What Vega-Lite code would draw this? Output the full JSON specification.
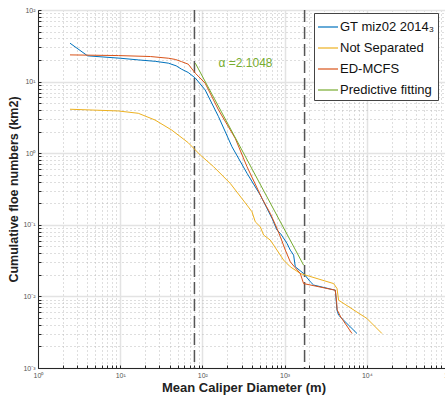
{
  "$schema": "https://vega.github.io/schema/vega-lite/v6.json",
  "width": 411,
  "height": 358,
  "autosize": {"type": "none"},
  "padding": {"left": 38, "top": 10, "right": 0, "bottom": 33},
  "background": "white",
  "config": {
    "font": "Liberation Sans",
    "view": {"stroke": "#262626", "strokeWidth": 1}
  },
  "datasets": {
    "curves": [
      {"s": "GT miz02 2014₃", "x": 2.45, "y": 34.4},
      {"s": "GT miz02 2014₃", "x": 4.01, "y": 22.9},
      {"s": "GT miz02 2014₃", "x": 10.0, "y": 21.2},
      {"s": "GT miz02 2014₃", "x": 16.6, "y": 20.1},
      {"s": "GT miz02 2014₃", "x": 26.7, "y": 19.2},
      {"s": "GT miz02 2014₃", "x": 38.5, "y": 18.1},
      {"s": "GT miz02 2014₃", "x": 48, "y": 16.6},
      {"s": "GT miz02 2014₃", "x": 55.8, "y": 14.9},
      {"s": "GT miz02 2014₃", "x": 67.3, "y": 13.4},
      {"s": "GT miz02 2014₃", "x": 82, "y": 11.2},
      {"s": "GT miz02 2014₃", "x": 108, "y": 7.65},
      {"s": "GT miz02 2014₃", "x": 157, "y": 3.24},
      {"s": "GT miz02 2014₃", "x": 229, "y": 1.23},
      {"s": "GT miz02 2014₃", "x": 349, "y": 0.524},
      {"s": "GT miz02 2014₃", "x": 506, "y": 0.26},
      {"s": "GT miz02 2014₃", "x": 703, "y": 0.123},
      {"s": "GT miz02 2014₃", "x": 808, "y": 0.0843},
      {"s": "GT miz02 2014₃", "x": 888, "y": 0.0759},
      {"s": "GT miz02 2014₃", "x": 1070, "y": 0.055},
      {"s": "GT miz02 2014₃", "x": 1173, "y": 0.0443},
      {"s": "GT miz02 2014₃", "x": 1288, "y": 0.0377},
      {"s": "GT miz02 2014₃", "x": 1349, "y": 0.0259},
      {"s": "GT miz02 2014₃", "x": 1703, "y": 0.0209},
      {"s": "GT miz02 2014₃", "x": 2055, "y": 0.016},
      {"s": "GT miz02 2014₃", "x": 2255, "y": 0.0144},
      {"s": "GT miz02 2014₃", "x": 4140, "y": 0.0122},
      {"s": "GT miz02 2014₃", "x": 4340, "y": 0.0064},
      {"s": "GT miz02 2014₃", "x": 4540, "y": 0.00546},
      {"s": "GT miz02 2014₃", "x": 7600, "y": 0.00303},
      {"s": "Not Separated", "x": 2.45, "y": 4.11},
      {"s": "Not Separated", "x": 9.48, "y": 3.89},
      {"s": "Not Separated", "x": 16.6, "y": 3.61},
      {"s": "Not Separated", "x": 26.5, "y": 2.91},
      {"s": "Not Separated", "x": 42.2, "y": 2.11},
      {"s": "Not Separated", "x": 67.3, "y": 1.4},
      {"s": "Not Separated", "x": 94.2, "y": 0.944},
      {"s": "Not Separated", "x": 137, "y": 0.647},
      {"s": "Not Separated", "x": 218, "y": 0.379},
      {"s": "Not Separated", "x": 349, "y": 0.188},
      {"s": "Not Separated", "x": 401, "y": 0.152},
      {"s": "Not Separated", "x": 440, "y": 0.11},
      {"s": "Not Separated", "x": 506, "y": 0.0938},
      {"s": "Not Separated", "x": 556, "y": 0.0718},
      {"s": "Not Separated", "x": 670, "y": 0.0611},
      {"s": "Not Separated", "x": 808, "y": 0.0443},
      {"s": "Not Separated", "x": 973, "y": 0.0321},
      {"s": "Not Separated", "x": 1173, "y": 0.0259},
      {"s": "Not Separated", "x": 1552, "y": 0.0209},
      {"s": "Not Separated", "x": 3950, "y": 0.0151},
      {"s": "Not Separated", "x": 4340, "y": 0.0129},
      {"s": "Not Separated", "x": 4540, "y": 0.00885},
      {"s": "Not Separated", "x": 10050, "y": 0.00491},
      {"s": "Not Separated", "x": 15300, "y": 0.00303},
      {"s": "ED-MCFS", "x": 2.45, "y": 23.6},
      {"s": "ED-MCFS", "x": 9.48, "y": 23.1},
      {"s": "ED-MCFS", "x": 23.3, "y": 22.4},
      {"s": "ED-MCFS", "x": 38.5, "y": 21.2},
      {"s": "ED-MCFS", "x": 46.8, "y": 20.4},
      {"s": "ED-MCFS", "x": 55.8, "y": 19.0},
      {"s": "ED-MCFS", "x": 67.3, "y": 17.5},
      {"s": "ED-MCFS", "x": 82, "y": 13.1},
      {"s": "ED-MCFS", "x": 108, "y": 9.5},
      {"s": "ED-MCFS", "x": 157, "y": 4.02},
      {"s": "ED-MCFS", "x": 251, "y": 1.61},
      {"s": "ED-MCFS", "x": 349, "y": 0.647},
      {"s": "ED-MCFS", "x": 531, "y": 0.234},
      {"s": "ED-MCFS", "x": 670, "y": 0.144},
      {"s": "ED-MCFS", "x": 808, "y": 0.089},
      {"s": "ED-MCFS", "x": 888, "y": 0.068},
      {"s": "ED-MCFS", "x": 1021, "y": 0.0443},
      {"s": "ED-MCFS", "x": 1173, "y": 0.0304},
      {"s": "ED-MCFS", "x": 1349, "y": 0.0251},
      {"s": "ED-MCFS", "x": 1552, "y": 0.0209},
      {"s": "ED-MCFS", "x": 1703, "y": 0.0151},
      {"s": "ED-MCFS", "x": 4140, "y": 0.0122},
      {"s": "ED-MCFS", "x": 4300, "y": 0.0083},
      {"s": "ED-MCFS", "x": 4360, "y": 0.0065},
      {"s": "ED-MCFS", "x": 4820, "y": 0.00516},
      {"s": "ED-MCFS", "x": 6610, "y": 0.00303},
      {"s": "Predictive fitting", "x": 82, "y": 18.1},
      {"s": "Predictive fitting", "x": 1703, "y": 0.0273}
    ],
    "cutoffs": [{"x": 80}, {"x": 1750}],
    "note": [{"x": 157, "y": 18.1, "t": "α =2.1048"}]
  },
  "layer": [
    {
      "data": {"name": "curves"},
      "mark": {"type": "line", "strokeWidth": 1, "opacity": 0},
      "encoding": {
        "x": {
          "field": "x", "type": "quantitative",
          "scale": {"type": "log", "domain": [1, 100000], "nice": false},
          "axis": {
            "title": "Mean Caliper Diameter (m)",
            "titleFont": "Liberation Sans", "titleFontSize": 13, "titleFontWeight": "bold", "titleColor": "#222",
            "titlePadding": 3,
            "values": [1,2,3,4,5,6,7,8,9,10,20,30,40,50,60,70,80,90,100,200,300,400,500,600,700,800,900,1000,2000,3000,4000,5000,6000,7000,8000,9000,10000,20000,30000,40000,50000,60000,70000,80000,90000,100000],
            "labelExpr": "abs(log(datum.value)/LN10 - round(log(datum.value)/LN10)) < 0.000001 ? '10' + (round(log(datum.value)/LN10) < 0 ? '⁻' : '') + substring('⁰¹²³⁴⁵⁶⁷⁸⁹', abs(round(log(datum.value)/LN10)), abs(round(log(datum.value)/LN10)) + 1) : ''",
            "labelFontSize": 7, "labelColor": "#555", "labelPadding": 6, "labelFlush": false, "labelOverlap": false,
            "domainColor": "#262626",
            "tickColor": "#262626", "tickSize": -3,
            "grid": true,
            "gridColor": {"condition": {"test": "abs(log(datum.value)/LN10 - round(log(datum.value)/LN10)) < 0.000001", "value": "#e3e3e3"}, "value": "#bdbdbd"},
            "gridDash": {"condition": {"test": "abs(log(datum.value)/LN10 - round(log(datum.value)/LN10)) < 0.000001", "value": []}, "value": [1, 3]},
            "gridWidth": {"condition": {"test": "abs(log(datum.value)/LN10 - round(log(datum.value)/LN10)) < 0.000001", "value": 1.5}, "value": 1}
          }
        },
        "y": {
          "field": "y", "type": "quantitative",
          "scale": {"type": "log", "domain": [0.001, 100], "nice": false},
          "axis": {
            "title": "Cumulative floe numbers (km2)",
            "titleFont": "Liberation Sans", "titleFontSize": 12.5, "titleFontWeight": "bold", "titleColor": "#222",
            "titlePadding": 2,
            "values": [0.001,0.002,0.003,0.004,0.005,0.006,0.007,0.008,0.009,0.01,0.02,0.03,0.04,0.05,0.06,0.07,0.08,0.09,0.1,0.2,0.3,0.4,0.5,0.6,0.7,0.8,0.9,1,2,3,4,5,6,7,8,9,10,20,30,40,50,60,70,80,90,100],
            "labelExpr": "abs(log(datum.value)/LN10 - round(log(datum.value)/LN10)) < 0.000001 ? '10' + (round(log(datum.value)/LN10) < 0 ? '⁻' : '') + substring('⁰¹²³⁴⁵⁶⁷⁸⁹', abs(round(log(datum.value)/LN10)), abs(round(log(datum.value)/LN10)) + 1) : ''",
            "labelFontSize": 7, "labelColor": "#555", "labelPadding": 6, "labelFlush": false, "labelOverlap": false,
            "domainColor": "#262626",
            "tickColor": "#262626", "tickSize": -3,
            "grid": true,
            "gridColor": {"condition": {"test": "abs(log(datum.value)/LN10 - round(log(datum.value)/LN10)) < 0.000001", "value": "#e3e3e3"}, "value": "#bdbdbd"},
            "gridDash": {"condition": {"test": "abs(log(datum.value)/LN10 - round(log(datum.value)/LN10)) < 0.000001", "value": []}, "value": [1, 3]},
            "gridWidth": {"condition": {"test": "abs(log(datum.value)/LN10 - round(log(datum.value)/LN10)) < 0.000001", "value": 1.5}, "value": 1}
          }
        },
        "color": {
          "field": "s", "type": "nominal",
          "scale": {"domain": ["GT miz02 2014₃", "Not Separated", "ED-MCFS", "Predictive fitting"], "range": ["#0072BD", "#EDB120", "#D95319", "#77AC30"]},
          "legend": {
            "title": null, "orient": "none", "legendX": 276, "legendY": 3,
            "symbolType": "stroke", "symbolSize": 400, "symbolStrokeWidth": 1.2, "symbolOpacity": 1,
            "labelFont": "Liberation Sans", "labelFontSize": 13, "labelColor": "#111", "labelOffset": 1, "labelLimit": 300,
            "rowPadding": 3, "padding": 3,
            "fillColor": "white", "strokeColor": "#444"
          }
        }
      }
    },
    {
      "data": {"name": "cutoffs"},
      "mark": {"type": "rule", "color": "#555", "strokeWidth": 1.5, "strokeDash": [12, 5]},
      "encoding": {
        "x": {"field": "x", "type": "quantitative", "scale": {"type": "log", "domain": [1, 100000], "nice": false}}
      }
    },
    {
      "data": {"name": "curves"},
      "mark": {"type": "line", "strokeWidth": 1},
      "encoding": {
        "x": {"field": "x", "type": "quantitative", "scale": {"type": "log", "domain": [1, 100000], "nice": false}},
        "y": {"field": "y", "type": "quantitative", "scale": {"type": "log", "domain": [0.001, 100], "nice": false}},
        "color": {"field": "s", "type": "nominal"}
      }
    },
    {
      "data": {"name": "note"},
      "mark": {"type": "text", "align": "left", "baseline": "middle", "color": "#77AC30", "fontSize": 12, "font": "Liberation Sans"},
      "encoding": {
        "x": {"field": "x", "type": "quantitative", "scale": {"type": "log", "domain": [1, 100000], "nice": false}},
        "y": {"field": "y", "type": "quantitative", "scale": {"type": "log", "domain": [0.001, 100], "nice": false}},
        "text": {"field": "t"}
      }
    }
  ]
}
